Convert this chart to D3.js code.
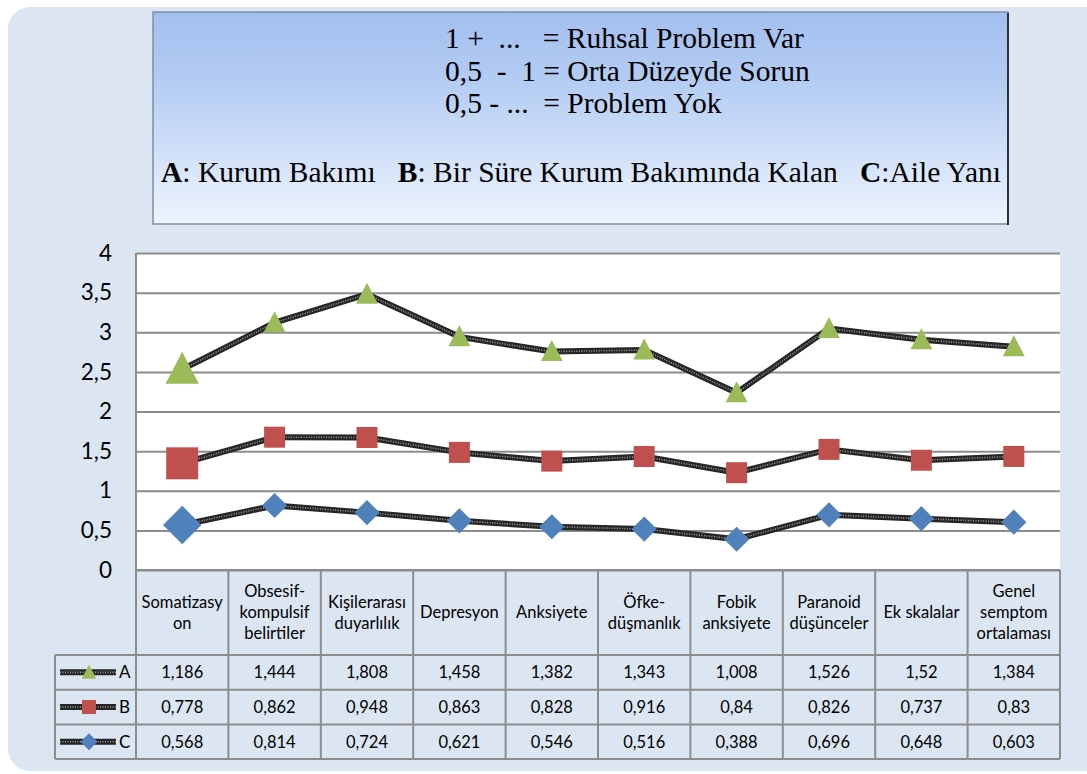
<!DOCTYPE html>
<html>
<head>
<meta charset="utf-8">
<script src="https://cdn.jsdelivr.net/npm/d3@7"></script>
<style>
  body { margin: 0; background: #ffffff; }
  svg text { white-space: pre; }
</style>
</head>
<body>
<div id="chart"></div>
<script>
// data as printed in the table; the chart stacks C, B, A
const categories = [
  ["Somatizasy", "on"],
  ["Obsesif-", "kompulsif", "belirtiler"],
  ["Kişilerarası", "duyarlılık"],
  ["Depresyon"],
  ["Anksiyete"],
  ["Öfke-", "düşmanlık"],
  ["Fobik", "anksiyete"],
  ["Paranoid", "düşünceler"],
  ["Ek skalalar"],
  ["Genel", "semptom", "ortalaması"]
];
const seriesA = [1.186, 1.444, 1.808, 1.458, 1.382, 1.343, 1.008, 1.526, 1.52, 1.384];
const seriesB = [0.778, 0.862, 0.948, 0.863, 0.828, 0.916, 0.84, 0.826, 0.737, 0.83];
const seriesC = [0.568, 0.814, 0.724, 0.621, 0.546, 0.516, 0.388, 0.696, 0.648, 0.603];
const yTicks = [0, 0.5, 1, 1.5, 2, 2.5, 3, 3.5, 4];
const noteLines = [
  "1 +  ...   = Ruhsal Problem Var",
  "0,5  -  1 = Orta Düzeyde Sorun",
  "0,5 - ...  = Problem Yok"
];

const W = 1087, H = 774;
const svg = d3.select("#chart").append("svg")
  .attr("width", W).attr("height", H);

// panel background
svg.append("rect")
  .attr("x", 8).attr("y", 7).attr("width", 1100).attr("height", 764)
  .attr("rx", 22).attr("ry", 22)
  .style("fill", "#dce6f2");

// header box with gradient
const defs = svg.append("defs");
const grad = defs.append("linearGradient").attr("id", "hdr")
  .attr("x1", 0).attr("y1", 0).attr("x2", 0).attr("y2", 1);
grad.append("stop").attr("offset", "0%").attr("stop-color", "#a3bfef");
grad.append("stop").attr("offset", "30%").attr("stop-color", "#b2cbf3");
grad.append("stop").attr("offset", "100%").attr("stop-color", "#eef4fe");

svg.append("rect")
  .attr("x", 153).attr("y", 12).attr("width", 855).attr("height", 212)
  .style("fill", "url(#hdr)")
  .style("stroke", "#7f8da6").style("stroke-width", 1.5);
svg.append("line")
  .attr("x1", 1008).attr("x2", 1008).attr("y1", 13).attr("y2", 225)
  .style("stroke", "#2b2f36").style("stroke-width", 2);

const hdr = svg.append("g")
  .style("font-family", "'Liberation Serif', 'Times New Roman', serif")
  .style("font-size", "29.5px").style("fill", "#000");
noteLines.forEach(function (t, i) {
  hdr.append("text").attr("x", 445).attr("y", 48 + i * 32.5).text(t);
});
const leg = hdr.append("text").attr("x", 161).attr("y", 182).style("font-size", "29.5px");
leg.append("tspan").style("font-weight", "bold").text("A");
leg.append("tspan").text(": Kurum Bakımı   ");
leg.append("tspan").style("font-weight", "bold").text("B");
leg.append("tspan").text(": Bir Süre Kurum Bakımında Kalan   ");
leg.append("tspan").style("font-weight", "bold").text("C");
leg.append("tspan").text(":Aile Yanı");

// plot area
const pLeft = 136, pRight = 1060, pTop = 253, pBottom = 570;
const x = d3.scaleBand().domain(d3.range(categories.length)).range([pLeft, pRight]);
const y = d3.scaleLinear().domain([0, 4]).range([pBottom, pTop]);

svg.append("rect")
  .attr("x", pLeft).attr("y", pTop).attr("width", pRight - pLeft).attr("height", pBottom - pTop)
  .style("fill", "#ffffff");

svg.append("g")
  .attr("transform", "translate(" + pLeft + ",0)")
  .call(d3.axisLeft(y).tickValues(yTicks).tickSize(-(pRight - pLeft)).tickPadding(24)
    .tickFormat(function (d) { return String(d).replace(".", ","); }))
  .call(function (g) { g.select(".domain").remove(); })
  .call(function (g) {
    g.selectAll(".tick line").style("stroke", "#8c8c8c").style("stroke-width", 2);
    g.selectAll(".tick text").style("font-family", "Lato, 'Open Sans', sans-serif")
      .style("font-size", "22.5px").style("fill", "#000");
  });
svg.append("line")
  .attr("x1", pLeft).attr("x2", pLeft).attr("y1", pTop).attr("y2", pBottom)
  .style("stroke", "#8c8c8c").style("stroke-width", 2);

// stacked series
const rows = categories.map(function (c, i) { return { i: i, A: seriesA[i], B: seriesB[i], C: seriesC[i] }; });
const stack = d3.stack().keys(["C", "B", "A"])(rows);
const colors = { A: "#9bbb59", B: "#c0504d", C: "#4f81bd" };

const line = d3.line()
  .x(function (d) { return x(d.data.i) + x.bandwidth() / 2; })
  .y(function (d) { return y(d[1]); });

function drawLine(g, d) {
  g.append("path").attr("d", d).style("fill", "none")
    .style("stroke", "#262626").style("stroke-width", 6).style("stroke-linejoin", "round");
  g.append("path").attr("d", d).style("fill", "none")
    .style("stroke", "#9a9a9a").style("stroke-width", 1.6).style("stroke-dasharray", "1 1.5");
}

function marker(g, key, cx, cy, size) {
  if (key === "A") {
    g.append("path")
      .attr("d", "M" + cx + "," + (cy - size * 0.55) + "L" + (cx + size * 0.52) + "," + (cy + size * 0.45) +
        "L" + (cx - size * 0.52) + "," + (cy + size * 0.45) + "Z")
      .style("fill", colors.A);
  } else if (key === "B") {
    g.append("rect").attr("x", cx - size / 2).attr("y", cy - size / 2)
      .attr("width", size).attr("height", size).style("fill", colors.B);
  } else {
    const h = size * 0.6;
    g.append("path")
      .attr("d", "M" + cx + "," + (cy - h) + "L" + (cx + h) + "," + cy + "L" + cx + "," + (cy + h) + "L" + (cx - h) + "," + cy + "Z")
      .style("fill", colors.C);
  }
}

const plot = svg.append("g");
stack.forEach(function (s) {
  drawLine(plot, line(s));
});
stack.forEach(function (s) {
  s.forEach(function (d, j) {
    const size = j === 0 ? 32 : 21;
    marker(plot, s.key, x(d.data.i) + x.bandwidth() / 2, y(d[1]), size);
  });
});

// data table
const tbl = svg.append("g")
  .style("font-family", "Lato, 'Open Sans', sans-serif").style("fill", "#000");
const hdrTop = 570, hdrBot = 655, rowH = 34.7, tblLeft = 55;
const gridColor = "#8c8c8c";

x.domain().forEach(function (i) {
  const cx = x(i) + x.bandwidth() / 2;
  const lines = categories[i];
  lines.forEach(function (t, k) {
    tbl.append("text")
      .attr("x", cx)
      .attr("y", (hdrTop + hdrBot) / 2 + (k - (lines.length - 1) / 2) * 21 + 5.5)
      .attr("text-anchor", "middle").style("font-size", "16.5px").text(t);
  });
});

const tableRows = [["A", seriesA], ["B", seriesB], ["C", seriesC]];
tableRows.forEach(function (r, k) {
  const y0 = hdrBot + k * rowH;
  const cy = y0 + rowH / 2;
  r[1].forEach(function (v, i) {
    tbl.append("text").attr("x", x(i) + x.bandwidth() / 2).attr("y", cy + 6)
      .attr("text-anchor", "middle").style("font-size", "16.5px")
      .text(String(v).replace(".", ","));
  });
  const lg = tbl.append("g");
  drawLine(lg, "M60," + cy + "L116," + cy);
  marker(lg, r[0], 89, cy, 14);
  tbl.append("text").attr("x", 119).attr("y", cy + 6).style("font-size", "17px").text(r[0]);
});

// table grid
const tblBot = hdrBot + 3 * rowH;
const grid = svg.append("g").style("stroke", gridColor).style("stroke-width", 2);
[hdrBot, hdrBot + rowH, hdrBot + 2 * rowH, tblBot].forEach(function (yy) {
  grid.append("line").attr("x1", tblLeft).attr("x2", pRight).attr("y1", yy).attr("y2", yy);
});
grid.append("line").attr("x1", pLeft).attr("x2", pRight).attr("y1", hdrTop).attr("y2", hdrTop);
grid.append("line").attr("x1", tblLeft).attr("x2", tblLeft).attr("y1", hdrBot).attr("y2", tblBot);
x.domain().concat([categories.length]).forEach(function (i) {
  const xx = i < categories.length ? x(i) : pRight;
  grid.append("line").attr("x1", xx).attr("x2", xx).attr("y1", hdrTop).attr("y2", tblBot);
});
</script>
</body>
</html>
